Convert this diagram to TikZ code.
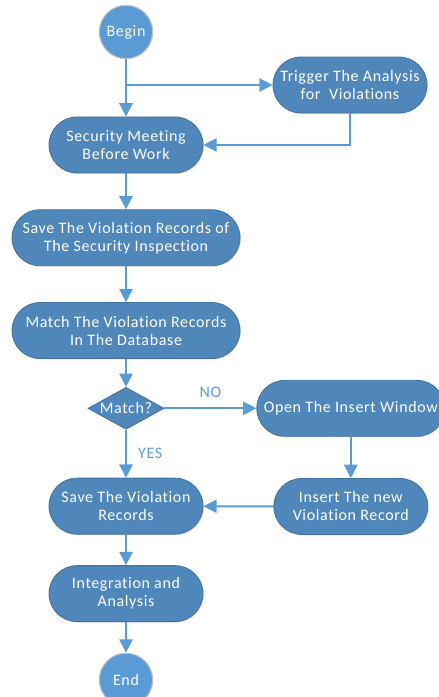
\documentclass[tikz,border=0pt]{standalone}
\usepackage{xcolor}
\usepackage{fontspec}
\setmainfont[Ligatures=NoCommon, LetterSpace=4]{Carlito}
\usepackage{tikz}
\usetikzlibrary{positioning,shapes,shadows,arrows.meta}
\definecolor{boxblue}{HTML}{4F87BA}
\definecolor{boxedge}{HTML}{41719C}
\definecolor{roundblue}{HTML}{5B9BD5}
\definecolor{linkblue}{HTML}{5B9BD5}
\tikzstyle{process}=[rectangle, rounded corners=21pt, draw=boxedge, line width=0.6pt, fill=boxblue,
        drop shadow={opacity=0.2, shadow xshift=0.8pt, shadow yshift=-0.8pt},
        align=center, text=white, minimum width=115.5pt, minimum height=42pt, inner sep=1pt]
\tikzstyle{terminal}=[circle, draw=black!25, line width=0.8pt, fill=roundblue, text=white,
        minimum size=40pt, inner sep=0pt]
\tikzstyle{decision}=[diamond, draw=boxedge, line width=0.6pt, fill=boxblue, text=white,
        aspect=1.8, minimum width=57pt, minimum height=31.5pt, inner sep=0pt]
\tikzstyle{line}=[draw=linkblue, line width=1.5pt, -{Triangle[length=10pt,width=10pt]}]
\tikzstyle{answer}=[text=linkblue]

\begin{document}
\begin{tikzpicture}[x=0.75pt, y=-0.75pt, font=\fontsize{12}{13.5}\selectfont]
      \useasboundingbox (0,0) rectangle (439,697);
      \node (Begin) [terminal] at (126,32) {Begin};
      \node (Meeting) [process, below=43pt of Begin] {Security Meeting\\Before Work};
      \node (Trigger) [process] at (350,85) {Trigger The Analysis\\for\ \ Violations};
      \node (SaveRecords) [process, minimum width=171pt, below=27pt of Meeting]
        {Save The Violation Records of\\The Security Inspection};
      \node (MatchRecords) [process, minimum width=171pt, below=27pt of SaveRecords]
        {Match The Violation Records\\In The Database};
      \node (Match) [decision, below=21pt of MatchRecords] {Match?};
      \node (OpenWindow) [process, minimum width=141pt, right=69pt of Match] {Open The Insert Window};
      \node (InsertRecord) [process, below=31pt of OpenWindow] {Insert The new\\Violation Record};
      \node (SaveViolation) [process, below=36pt of Match] {Save The Violation\\Records};
      \node (Integration) [process, below=23pt of SaveViolation] {Integration and\\Analysis};
      \node (End) [terminal, below=23pt of Integration] {End};

      \coordinate (Fork) at (Begin.center |- Trigger.west);
      \draw[line] (Begin) -- (Meeting);
      \draw[line] (Fork) -- (Trigger);
      \draw[line] (Trigger.south) |- (Meeting.east);
      \draw[line] (Meeting) -- (SaveRecords);
      \draw[line] (SaveRecords) -- (MatchRecords);
      \draw[line] (MatchRecords) -- (Match);
      \draw[line] (Match) -- node[answer, above=4pt] {NO} (OpenWindow);
      \draw[line] (Match) -- node[answer, right=5pt] {YES} (SaveViolation);
      \draw[line] (OpenWindow) -- (InsertRecord);
      \draw[line] (InsertRecord) -- (SaveViolation);
      \draw[line] (SaveViolation) -- (Integration);
      \draw[line] (Integration) -- (End);
    \end{tikzpicture}
\end{document}
